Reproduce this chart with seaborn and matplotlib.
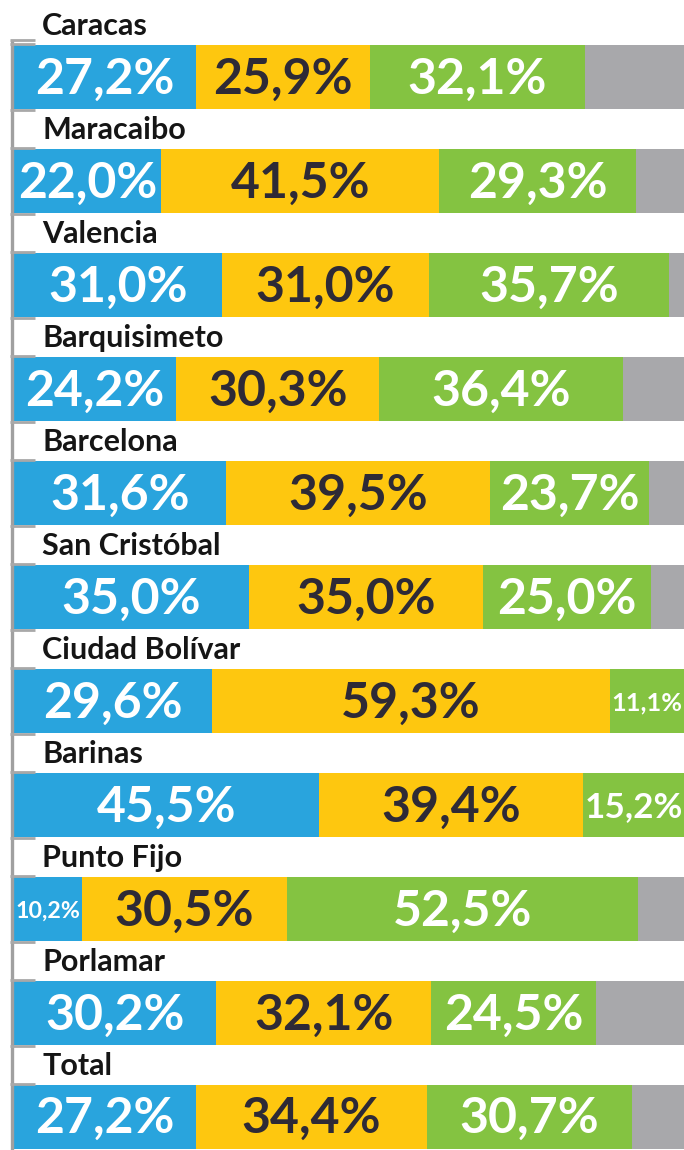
import pandas as pd
import matplotlib
matplotlib.use("Agg")
import matplotlib.pyplot as plt
import seaborn as sns

sns.set_theme(style="white")
plt.rcParams['font.family'] = ['Lato', 'DejaVu Sans']

# --- data ---
cities = ['Caracas', 'Maracaibo', 'Valencia', 'Barquisimeto', 'Barcelona',
          'San Cristóbal', 'Ciudad Bolívar', 'Barinas', 'Punto Fijo',
          'Porlamar', 'Total']
blue = [27.2, 22.0, 31.0, 24.2, 31.6, 35.0, 29.6, 45.5, 10.2, 30.2, 27.2]
yellow = [25.9, 41.5, 31.0, 30.3, 39.5, 35.0, 59.3, 39.4, 30.5, 32.1, 34.4]
green = [32.1, 29.3, 35.7, 36.4, 23.7, 25.0, 11.1, 15.2, 52.5, 24.5, 30.7]

BLUE, YELLOW, GREEN, GRAY = '#29a4dd', '#fec70f', '#84c341', '#a8a8ab'
DARK = '#2e2a36'

df = pd.DataFrame({'city': cities, 'blue': blue, 'yellow': yellow, 'green': green})
df['c1'] = df['blue']
df['c2'] = df['c1'] + df['yellow']
df['c3'] = df['c2'] + df['green']
df['full'] = 100.0

BAR_H = 0.614
n = len(cities)

fig = plt.figure(figsize=(6.84, 11.5), dpi=100)
fig.patch.set_facecolor('white')
ax = fig.add_axes([0, 0, 1, 1])
ax.set_facecolor('#f7f7f7')

# stacked bars drawn as layered cumulative totals
for col, colr in [('full', GRAY), ('c3', GREEN), ('c2', YELLOW), ('c1', BLUE)]:
    sns.barplot(data=df, x=col, y='city', orient='h', color=colr, width=BAR_H,
                saturation=1, linewidth=0, errorbar=None, ax=ax, zorder=3)

ax.set_xlim(-2.09, 100)
ax.set_ylim(n - 1 + 0.32, -0.74)
ax.axis('off')

# left rail and little white tabs
half = BAR_H / 2
ax.vlines(-0.3, -half - 0.05, n, color='#a0a0a0', lw=2.4, zorder=4)
for i in range(n):
    top = i - 1 + half if i > 0 else -half - 0.06
    bot = i - half
    ax.fill_between([0, 3.1], top, bot, color='white', zorder=2, lw=0)
    ax.hlines([top + 0.01, bot - 0.01], -0.6, 3.1, color='#a8a8a8', lw=2, zorder=4)
    ax.text(4.2, i - 0.49, cities[i], fontsize=22, fontweight='bold',
            color='#151515', ha='left', va='center', zorder=5)

# value labels
labels = []
for i, row in df.iterrows():
    segs = [(0, row['blue'], 'white'),
            (row['c1'], row['yellow'], DARK),
            (row['c2'], row['green'], 'white')]
    for start, w, tc in segs:
        s = f"{w:.1f}".replace('.', ',') + '%'
        t = ax.text(start + w / 2, i + 0.02, s, fontsize=36, fontweight='bold',
                    color=tc, ha='center', va='center', zorder=5)
        labels.append((t, w))

# shrink labels that don't fit their segment
fig.canvas.draw()
r = fig.canvas.get_renderer()
px_per = ax.transData.transform((1, 0))[0] - ax.transData.transform((0, 0))[0]
for t, w in labels:
    avail = w * px_per - 4
    tw = t.get_window_extent(renderer=r).width
    if tw > avail:
        t.set_fontsize(36 * avail / tw)

fig.savefig('out.png', dpi=100)
